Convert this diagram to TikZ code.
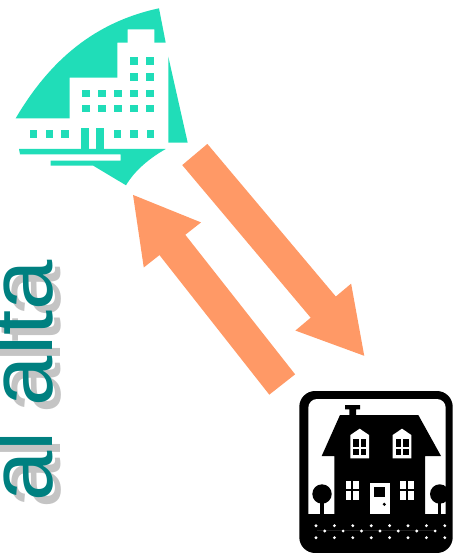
\documentclass[tikz,border=0pt]{standalone}
\usepackage{fontspec}
\usepackage{xcolor}
\usetikzlibrary{arrows.meta}
\setmainfont{Liberation Sans}
\definecolor{hospitalgreen}{HTML}{20DDB8}
\definecolor{arroworange}{HTML}{FF9966}
\definecolor{titleteal}{HTML}{008080}
\definecolor{titleshadow}{HTML}{C4C4C4}
\tikzset{
  bigarrow/.style={draw=arroworange,line width=18.7pt,-{Triangle[length=36.9pt,width=38.6pt,fill=arroworange]}},
  titletext/.style={rotate=90,anchor=base west,inner sep=0pt,font=\fontsize{51.5}{51.5}\selectfont},
  hospitalpart/.style={fill=hospitalgreen,draw=none},
  housepart/.style={fill=black,draw=none},
  housewhite/.style={fill=white,draw=none}
}
\begin{document}
\begin{tikzpicture}[x=0.02cm,y=-0.02cm]
    \useasboundingbox (0,0) rectangle (453,553);

    % Title (left)
    \node[titletext,titleshadow] (titleback) at (60,509) {al alta};
    \node[titletext,titleteal] (title) at (52,502) {al alta};

    % Hospital (top)
    \fill[hospitalpart] (15.7,118.3) .. controls (50,60) and (95,22) .. (159,8.3) -- (165.7,42.7)
      -- (154.3,42.7) -- (154.3,29.3) -- (127.7,29.3) -- (127.7,42.7) -- (117.3,42.7)
      -- (117.3,77.7) -- (69.7,77.7) -- (69.7,118.3) -- cycle;
    \fill[hospitalpart] (168.3,56.7) -- (187.7,142.7) -- (168.3,142.7) -- cycle;
    \fill[hospitalpart] (19,149) -- (165.7,149) .. controls (150,158) and (135,170) .. (126,185.3)
      -- (93.3,165.7) -- (50.7,165.7) -- (50.7,160.7) -- (120.7,160.7) -- (120.7,154.3)
      -- (20,154.3) -- cycle;
    \foreach \x/\y in {
      133.7/61, 150/61, 133.7/77, 150/77,
      86/93.7, 102/93.7, 118/93.7, 133.7/93.7, 150/93.7,
      86/108.7, 102/108.7, 118/108.7, 133.7/108.7, 150/108.7,
      33.3/134, 49.3/134, 64.7/134, 117.3/134, 134/134, 150.3/134
    } {
      \fill[hospitalpart] (\x-3.8,\y-3.8) rectangle (\x+3.8,\y+3.8);
    }
    \fill[hospitalpart] (80.7,128.3) rectangle (89,149);
    \fill[hospitalpart] (95.7,128.3) rectangle (103.7,149);

    % Arrows
    \coordinate (downtail) at (194.8,154.5);
    \coordinate (downtip) at (365,356.7);
    \coordinate (uptail) at (282.2,384.5);
    \coordinate (uptip) at (132.3,194);
    \draw[bigarrow] (downtail) -- (downtip);
    \draw[bigarrow] (uptail) -- (uptip);

    % House frame (bottom right)
    \fill[housepart,rounded corners=9pt] (299.3,391) rectangle (452.7,553);
    \fill[housewhite,rounded corners=5pt] (308.3,399) rectangle (445.7,530);
    \fill[housepart] (308.3,514.3) rectangle (445.7,530);

    % House body
    \fill[housepart] (321.7,456) -- (340,415) -- (349.3,415) -- (349.3,409.3) -- (345,409.3)
      -- (345,405) -- (360,405) -- (360,409.3) -- (356,409.3) -- (356,415) -- (418.3,415)
      -- (441,456) -- (425,456) -- (425,514.3) -- (334.3,514.3) -- (334.3,456) -- cycle;
    \foreach \x in {359.7,402} {
      \fill[housewhite] (\x-9.3,458.3) -- (\x-9.3,435) -- (\x,428.7) -- (\x+9.3,435)
        -- (\x+9.3,458.3) -- cycle;
      \fill[housepart] (\x-6.5,438.5) rectangle (\x-1,447);
      \fill[housepart] (\x+1,438.5) rectangle (\x+6.5,447);
      \fill[housepart] (\x-6.5,448.5) rectangle (\x-1,455);
      \fill[housepart] (\x+1,448.5) rectangle (\x+6.5,455);
    }
    \foreach \x in {345.7,400.3} {
      \fill[housewhite] (\x,480.7) rectangle (\x+5.7,489);
      \fill[housewhite] (\x+7.7,480.7) rectangle (\x+13.7,489);
      \fill[housewhite] (\x,491) rectangle (\x+5.7,500);
      \fill[housewhite] (\x+7.7,491) rectangle (\x+13.7,500);
    }
    \fill[housewhite] (370,482.7) rectangle (389.7,514.3);
    \fill[housepart] (374,486.7) rectangle (385,497.3);
    \fill[housepart] (384.3,504.3) circle (1.7);

    % Trees
    \foreach \x in {322,439.7} {
      \fill[housepart] (\x,494) circle (9.7);
      \fill[housepart] (\x-1.7,500) rectangle (\x+1.7,514.3);
    }

    % Ground dots
    \foreach \i in {0,...,7} {
      \fill[housewhite] (316+\i*18.4,525.7) circle (1.6);
      \fill[housewhite] (316+\i*18.4,537.7) circle (1.6);
    }
    \foreach \i in {0,...,6} {
      \fill[housewhite] (324.7+\i*18.4,531) circle (1.6);
    }
\end{tikzpicture}
\end{document}
